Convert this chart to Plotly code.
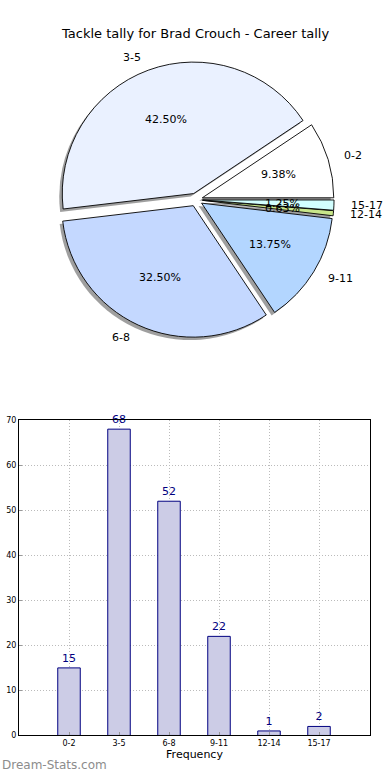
import math
from decimal import Decimal, ROUND_HALF_UP
import plotly.graph_objects as go

# ---- data ----
categories = ["0-2", "3-5", "6-8", "9-11", "12-14", "15-17"]
counts = [15, 68, 52, 22, 1, 2]
slice_colors = ["#FFFFFF", "#EAF1FF", "#C4D8FF", "#B3D6FF", "#C8E68A", "#D2FFFF"]
y_ticks = [0, 10, 20, 30, 40, 50, 60, 70]

title_text = "Tackle tally for Brad Crouch - Career tally"
pull = 0.05
W, H = 390, 780

total = sum(counts)
# first slice starts at 3 o'clock and runs counter-clockwise (plotly places the
# first ccw slice clockwise of `rotation`, so offset by its angle)
rotation = 90 - 360 * counts[0] / total

# pie geometry (pixels)
cx, cy, r = 196, 198, 133
box = 2 * r * (1 + pull)
pie_dx = [(cx - box / 2) / W, (cx + box / 2) / W]
pie_dy = [(H - cy - box / 2) / H, (H - cy + box / 2) / H]
sh = 3  # shadow offset px
shadow_dx = [pie_dx[0] - sh / W, pie_dx[1] - sh / W]
shadow_dy = [pie_dy[0] - sh / H, pie_dy[1] - sh / H]

fig = go.Figure()

# shadow
fig.add_trace(go.Pie(
    labels=categories, values=counts, sort=False, direction="counterclockwise",
    rotation=rotation, pull=[pull] * len(counts), textinfo="none", hoverinfo="skip",
    marker=dict(colors=["rgba(80,80,80,0.55)"] * len(counts), line=dict(width=0)),
    domain=dict(x=shadow_dx, y=shadow_dy), showlegend=False,
))
# main pie
fig.add_trace(go.Pie(
    labels=categories, values=counts, sort=False, direction="counterclockwise",
    rotation=rotation, pull=[pull] * len(counts), textinfo="none",
    marker=dict(colors=slice_colors, line=dict(color="black", width=0.9)),
    domain=dict(x=pie_dx, y=pie_dy), showlegend=False,
))

# invisible overlay axes for pie text (1 unit = pie radius, origin at pie centre)
top_band = 400
fig.add_trace(go.Scatter(x=[0], y=[0], xaxis="x2", yaxis="y2", mode="markers",
                         marker=dict(opacity=0), hoverinfo="skip", showlegend=False))

cum = 0
annotations = []
for lab, v in zip(categories, counts):
    mid = 2 * math.pi * (cum + v / 2) / total
    cum += v
    c, s = math.cos(mid), math.sin(mid)
    pct = Decimal(100 * v) / Decimal(total)
    pct_txt = str(pct.quantize(Decimal("0.01"), rounding=ROUND_HALF_UP)) + "%"
    pr = 0.6 + pull
    annotations.append(dict(x=pr * c, y=pr * s, xref="x2", yref="y2",
                            text=pct_txt, showarrow=False,
                            xanchor="center", yanchor="middle",
                            font=dict(size=11, color="black")))
    lr = 1.1 + pull
    annotations.append(dict(x=lr * c, y=lr * s, xref="x2", yref="y2",
                            text=lab, showarrow=False,
                            xanchor="left" if c > 0 else "right", yanchor="middle",
                            font=dict(size=11, color="black")))

# bar chart
fig.add_trace(go.Bar(
    x=list(range(len(categories))), y=counts, width=0.45,
    marker=dict(color="#CCCCE6", line=dict(color="#000080", width=1)),
    text=[str(v) for v in counts], textposition="outside",
    textfont=dict(color="#000080", size=11), cliponaxis=False,
    xaxis="x", yaxis="y", showlegend=False,
))

annotations.append(dict(text="Dream-Stats.com", x=0, y=(H - 770) / H, xref="paper", yref="paper",
                        xanchor="left", yanchor="middle", showarrow=False,
                        font=dict(size=12, color="#8C8C8C", family="DejaVu Sans, sans-serif")))
annotations.append(dict(text=title_text, x=0.5, y=(H - 30) / H, xref="paper", yref="paper",
                        xanchor="center", yanchor="middle", showarrow=False,
                        font=dict(size=13, color="black")))

grid = dict(showgrid=True, gridcolor="#BBBBBB", griddash="1px,2px", gridwidth=1)
fig.update_layout(
    width=W, height=H, margin=dict(l=0, r=0, t=0, b=0),
    paper_bgcolor="white", plot_bgcolor="white",
    font=dict(family="DejaVu Sans, sans-serif", color="black"),
    annotations=annotations,
    xaxis=dict(domain=[19 / W, 370 / W], range=[-1, 6.02], tickvals=list(range(len(categories))),
               ticktext=categories, tickfont=dict(size=8), showline=True, linecolor="black",
               mirror=True, ticks="inside", ticklen=3, tickcolor="#999999", zeroline=False,
               title=dict(text="Frequency", font=dict(size=11), standoff=2), anchor="y",
               layer="above traces", **grid),
    yaxis=dict(domain=[(H - 740) / H, (H - 421) / H], range=[0, 70], tickvals=y_ticks,
               tickfont=dict(size=8), showline=True, linecolor="black", mirror=True,
               ticks="inside", ticklen=3, tickcolor="#999999", zeroline=False, anchor="x",
               layer="above traces", **grid),
    xaxis2=dict(domain=[0, 1], range=[-cx / r, (W - cx) / r], visible=False,
                anchor="y2", fixedrange=True),
    yaxis2=dict(domain=[(H - top_band) / H, 1], range=[(cy - top_band) / r, cy / r],
                visible=False, anchor="x2", fixedrange=True),
)

fig.write_html(
    "out.html",
    config={"displayModeBar": False},
    post_script="document.body.style.margin='0';document.body.style.overflow='hidden';",
)
